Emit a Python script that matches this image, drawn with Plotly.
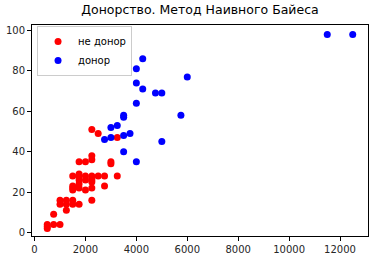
import plotly.graph_objects as go

# не донор (red)
red_x = [500, 500, 500, 750, 1000, 750, 1250,
         1000, 1000, 1250, 1250, 1500, 1500, 1750, 2250,
         1500, 1500, 1500, 1750, 1750, 2000, 2250, 2250, 2750,
         1750, 2000, 2250, 2250,
         1500, 1750, 2000, 2250, 2500, 2750, 3250, 1750,
         1750, 2000, 2250, 2250, 3000, 3000,
         2250, 2500, 3250]
red_y = [4, 3, 2, 4, 4, 9, 11,
         16, 14, 16, 14, 16, 14, 14, 16,
         21, 22, 23, 22, 24, 21, 22, 25, 23,
         26, 26, 26, 27,
         28, 28, 28, 28, 28, 28, 28, 29,
         35, 35, 36, 38, 35, 34,
         51, 49, 47]

# донор (blue)
blue_x = [11500, 12500, 4250, 4000, 4000, 4250, 6000, 4750, 5000, 4000,
          5750, 3500, 3500, 3000, 3250, 3000, 2750, 3500, 3750, 3500, 4000, 5000]
blue_y = [98, 98, 86, 81, 74, 71, 77, 69, 69, 64,
          58, 58, 57, 52, 53, 47, 46, 48, 49, 40, 35, 45]

x_ticks = [0, 2000, 4000, 6000, 8000, 10000, 12000]
y_ticks = [0, 20, 40, 60, 80, 100]

fig = go.Figure()
fig.add_trace(go.Scatter(x=red_x, y=red_y, mode="markers", name="не донор",
                         marker=dict(color="#ff0000", size=7, line=dict(width=0))))
fig.add_trace(go.Scatter(x=blue_x, y=blue_y, mode="markers", name="донор",
                         marker=dict(color="#0000ff", size=7, line=dict(width=0))))

axis_common = dict(showline=True, linecolor="#000000", linewidth=1, mirror=True,
                   ticks="outside", ticklen=4, tickwidth=1, tickcolor="#000000",
                   showgrid=False, zeroline=False, automargin=False,
                   tickfont=dict(family="DejaVu Sans", size=10, color="#262626"))

fig.update_layout(
    width=385, height=280,
    margin=dict(l=32, r=17, t=25, b=44, autoexpand=False),
    paper_bgcolor="white", plot_bgcolor="white",
    title=dict(text="Донорство. Метод Наивного Байеса", x=0.5, xref="paper", xanchor="center",
               y=0.965, yanchor="middle", yref="container",
               font=dict(family="DejaVu Sans", size=12.5, color="#000000")),
    xaxis=dict(range=[-100, 13100], tickvals=x_ticks, ticktext=[str(v) for v in x_ticks], **axis_common),
    yaxis=dict(range=[-1.7, 102.7], tickvals=y_ticks, ticktext=[str(v) for v in y_ticks], **axis_common),
    legend=dict(x=0.015, y=0.995, xanchor="left", yanchor="top",
                bgcolor="rgba(255,255,255,0.8)", bordercolor="#cccccc", borderwidth=1,
                font=dict(family="DejaVu Sans", size=10, color="#000000"),
                itemwidth=30, tracegroupgap=0),
    showlegend=True,
)

fig.write_html("out.html", config={"displayModeBar": False},
               post_script="document.body.style.margin='0';")
